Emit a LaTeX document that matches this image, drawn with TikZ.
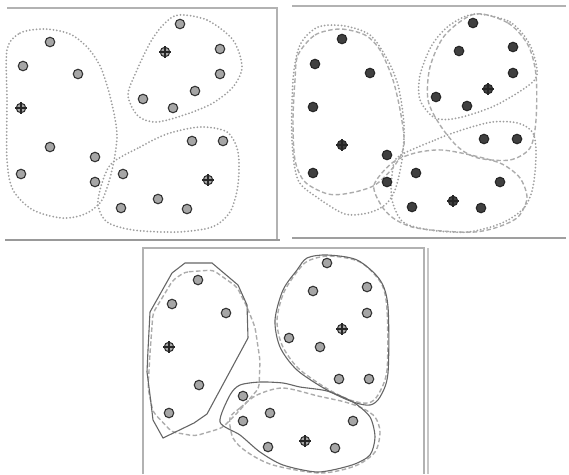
\documentclass[tikz,border=0pt]{standalone}
\usetikzlibrary{calc}
\begin{document}
\begin{tikzpicture}[x=1pt, y=-1pt,
  smp/.style={circle, draw=black!80, fill=gray!70, line width=1.1pt, inner sep=0pt, minimum size=9.5pt},
  smpdark/.style={smp, fill=black!75, draw=black!85},
  ctr/.style={draw=black!85, line width=1.2pt},
  frm/.style={draw=gray!60, line width=1.5pt},
  old/.style={draw=gray!75, line width=2pt, line cap=round, dash pattern=on 0pt off 3.4pt},
  new/.style={draw=gray!65, line width=1.4pt, dash pattern=on 4.5pt off 2.5pt},
  hull/.style={draw=black!60, line width=1.1pt}
]
\useasboundingbox (0,0) rectangle (569,474);

\draw[frm] (7,8) -- (277,8) -- (277,240);
\draw[frm, draw=gray!80, line width=2.5pt] (5,240) -- (280,240);
\draw[frm] (292,6) -- (566,6);
\draw[frm, draw=gray!75, line width=2.5pt] (292,238) -- (566,238);
\draw[frm] (143,474) -- (143,248) -- (424,248) -- (424,474);
\draw[frm, draw=gray!45] (428,248) -- (428,474);

% first partition
\draw[old] plot[smooth cycle] coordinates {(7,50) (20,33) (45,29) (70,34) (88,48) (101,68) (111,100) (117,135) (112,170) (102,200) (85,214) (62,218) (33,210) (13,190) (7,160) (7,100)};
\draw[old] plot[smooth cycle] coordinates {(178,15) (207,20) (233,40) (242,67) (233,87) (213,103) (187,114) (157,122) (138,116) (128,95) (137,70) (150,43) (163,25)};
\draw[old] plot[smooth cycle] coordinates {(112,163) (140,147) (167,134) (200,127) (227,132) (238,152) (238,185) (230,212) (212,227) (177,232) (133,230) (107,222) (98,205) (102,183)};

\foreach \x/\y [count=\i] in {50/42, 23/66, 78/74, 50/147, 95/157, 21/174, 95/182,
    180/24, 220/49, 220/74, 195/91, 143/99, 173/108,
    192/141, 223/141, 123/174, 158/199, 121/208, 187/209}
  \node[smp] (a\i) at (\x,\y) {};
\foreach \x/\y [count=\i] in {21/108, 165/52, 208/180} {
  \node[smp] (ca\i) at (\x,\y) {};
  \draw[ctr] (ca\i.center) ++(-6,0) -- ++(12,0);
  \draw[ctr] (ca\i.center) ++(0,-6) -- ++(0,12);
}

% second partition
\draw[old] plot[smooth cycle] coordinates {(300,45) (318,27) (345,26) (370,35) (386,57) (398,85) (404,125) (402,160) (395,190) (385,205) (368,213) (345,214) (318,198) (298,180) (292,140) (293,80)};
\draw[old] plot[smooth cycle] coordinates {(475,14) (510,22) (530,45) (537,75) (522,90) (492,107) (458,118) (435,118) (420,100) (420,75) (432,45) (450,25)};
\draw[old] plot[smooth cycle] coordinates {(398,157) (435,140) (462,130) (492,122) (518,123) (533,133) (536,155) (533,187) (524,208) (502,223) (468,232) (430,230) (403,222) (392,200) (392,175)};
\draw[new] plot[smooth cycle] coordinates {(298,55) (315,35) (340,29) (365,35) (380,50) (393,80) (401,115) (404,145) (395,165) (375,185) (350,193) (328,194) (305,182) (295,160) (293,120) (295,80)};
\draw[new] plot[smooth cycle] coordinates {(475,14) (508,23) (528,45) (536,75) (536,120) (530,148) (510,160) (478,158) (458,147) (440,125) (428,100) (430,67) (445,35)};
\draw[new] plot[smooth cycle] coordinates {(374,185) (392,163) (415,153) (442,150) (475,156) (502,164) (520,178) (527,198) (518,217) (498,227) (475,232) (442,231) (412,227) (393,218) (381,205)};

\foreach \x/\y [count=\i] in {342/39, 315/64, 370/73, 313/107, 387/155, 313/173, 387/182,
    473/23, 459/51, 513/47, 513/73, 436/97, 467/106,
    484/139, 517/139, 416/173, 500/182, 412/207, 481/208}
  \node[smpdark] (b\i) at (\x,\y) {};
\foreach \x/\y [count=\i] in {342/145, 488/89, 453/201} {
  \node[smpdark] (cb\i) at (\x,\y) {};
  \draw[ctr] (cb\i.center) ++(-6,0) -- ++(12,0);
  \draw[ctr] (cb\i.center) ++(0,-6) -- ++(0,12);
}

% third partition
\draw[new, rounded corners=4pt] (185,272) -- (213,270) -- (237,287) -- (247,307) -- (255,327) -- (260,360) -- (259,388) -- (240,410) -- (222,428) -- (195,436) -- (172,432) -- (153,412) -- (148,388) -- (150,353) -- (153,313) -- (173,280) -- cycle;
\draw[hull] (185,263) -- (212,263) -- (238,285) -- (247,305) -- (248,338) -- (207,414) -- (194,423) -- (163,438) -- (153,420) -- (150,395) -- (147,372) -- (148,350) -- (150,312) -- (172,273) -- cycle;
\draw[new] plot[smooth cycle] coordinates {(310,260) (330,256) (360,262) (381,283) (387,310) (387,370) (378,395) (368,403) (350,400) (326,388) (298,368) (282,345) (277,320) (284,292) (300,268)};
\draw[hull] plot[smooth cycle] coordinates {(307,258) (327,255) (357,260) (380,280) (388,307) (388,373) (380,397) (370,405) (353,402) (327,390) (297,370) (280,347) (275,320) (283,290) (297,270)};
\draw[new] plot[smooth cycle] coordinates {(230,418) (240,408) (257,395) (283,388) (318,396) (345,402) (362,408) (375,417) (380,432) (375,452) (355,466) (320,473) (273,465) (247,452) (233,438)};
\draw[hull] plot[smooth cycle, tension=0.45] coordinates {(220,422) (230,395) (240,385) (260,382) (283,383) (300,387) (327,391) (353,402) (370,417) (375,437) (370,455) (352,465) (318,472) (283,465) (260,452) (240,435)};

\foreach \x/\y [count=\i] in {198/280, 172/304, 226/313, 199/385, 169/413, 243/396, 243/421,
    327/263, 313/291, 367/287, 367/313, 289/338, 320/347, 339/379, 369/379,
    270/413, 353/421, 268/447, 335/448}
  \node[smp] (d\i) at (\x,\y) {};
\foreach \x/\y [count=\i] in {169/347, 342/329, 305/441} {
  \node[smp] (cd\i) at (\x,\y) {};
  \draw[ctr] (cd\i.center) ++(-6,0) -- ++(12,0);
  \draw[ctr] (cd\i.center) ++(0,-6) -- ++(0,12);
}
\end{tikzpicture}
\end{document}
